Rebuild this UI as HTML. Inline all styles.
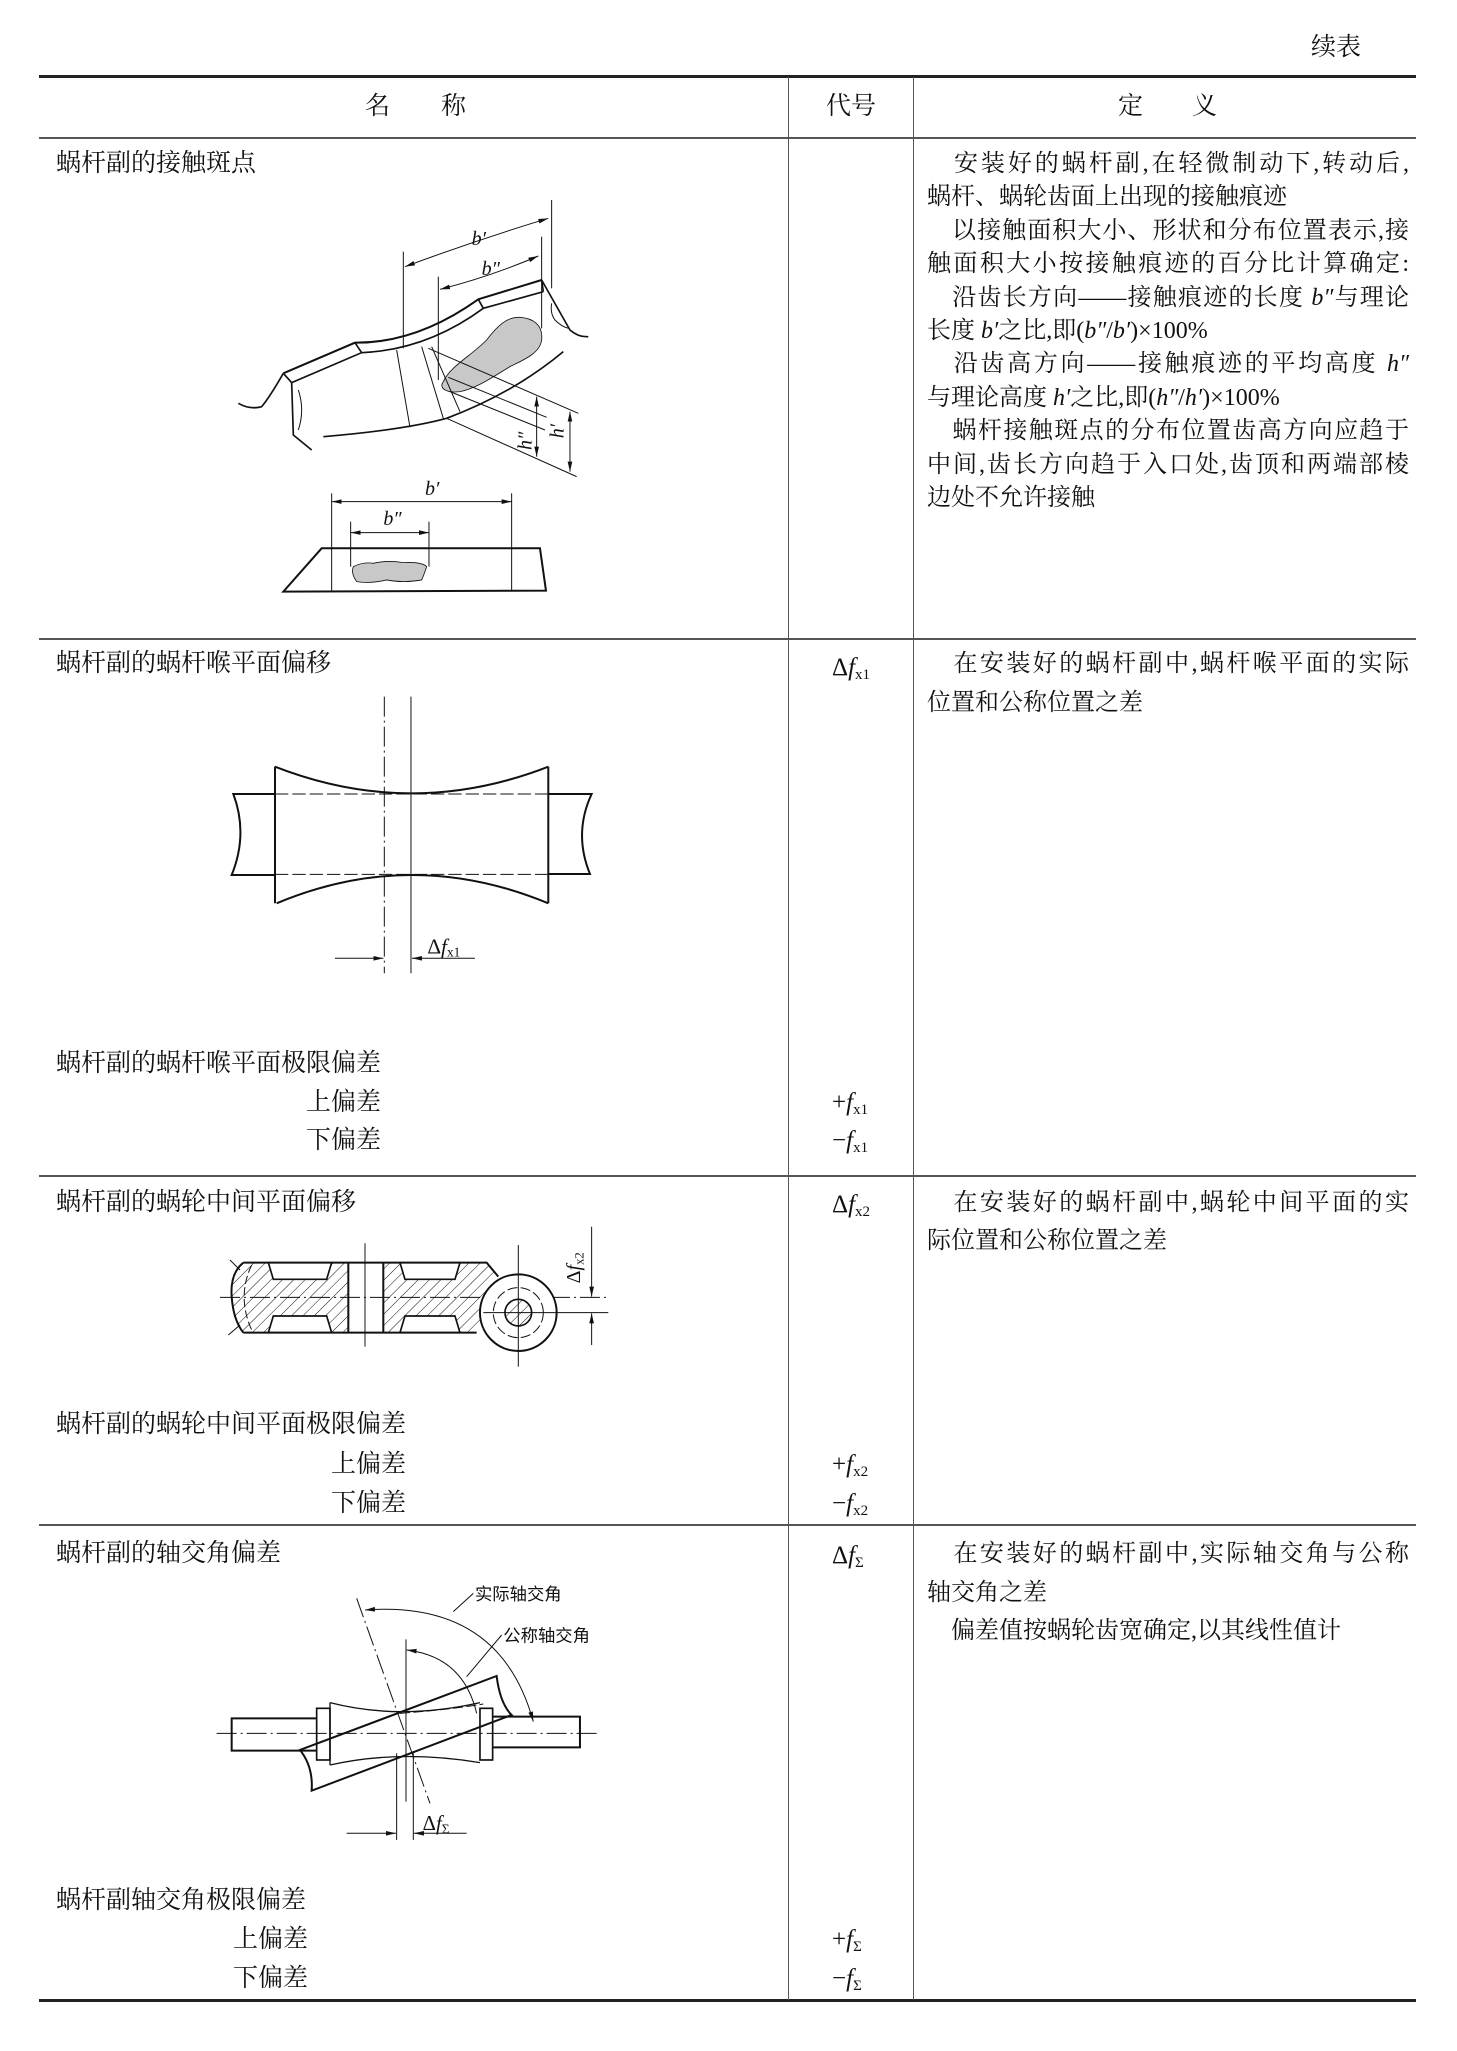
<!DOCTYPE html>
<html><head><meta charset="utf-8"><style>
body{margin:0;background:#fff;}
#pg{position:relative;width:1457px;height:2051px;overflow:hidden;font-family:"Liberation Serif","Noto Serif CJK SC","Noto Sans CJK SC",serif;color:#111;}
.t{position:absolute;font-size:25px;line-height:26px;white-space:nowrap;}
.r{position:absolute;left:927px;width:482px;font-size:24px;line-height:26px;text-align:justify;text-align-last:justify;white-space:nowrap;}
.r.n{text-align-last:left;}
.c{position:absolute;font-size:25px;line-height:26px;font-family:"Liberation Serif",serif;}
.c i{font-style:italic;}
.c sub{font-size:15px;vertical-align:-4px;}
.h{position:absolute;background:#222;}
</style></head><body><div id="pg">
<div class="t" style="left:1311px;top:35px;font-size:25px;">续表</div>
<!-- rules -->
<div class="h" style="left:39px;top:75px;width:1377px;height:3px;"></div>
<div class="h" style="left:39px;top:137px;width:1377px;height:1.5px;background:#555"></div>
<div class="h" style="left:39px;top:638px;width:1377px;height:1.5px;background:#555"></div>
<div class="h" style="left:39px;top:1175px;width:1377px;height:1.5px;background:#555"></div>
<div class="h" style="left:39px;top:1524px;width:1377px;height:1.5px;background:#555"></div>
<div class="h" style="left:39px;top:1999px;width:1377px;height:3px;"></div>
<div class="h" style="left:788px;top:77px;width:1.3px;height:1923px;background:#555"></div>
<div class="h" style="left:913px;top:77px;width:1.3px;height:1923px;background:#555"></div>
<!-- header -->
<div class="t" style="left:365px;top:94px;">名</div>
<div class="t" style="left:441px;top:94px;">称</div>
<div class="t" style="left:826px;top:94px;">代号</div>
<div class="t" style="left:1118px;top:94px;">定</div>
<div class="t" style="left:1192px;top:94px;">义</div>
<!-- left col -->
<div class="t" style="left:56px;top:151px;">蜗杆副的接触斑点</div>
<div class="t" style="left:56px;top:651px;">蜗杆副的蜗杆喉平面偏移</div>
<div class="t" style="left:56px;top:1051px;">蜗杆副的蜗杆喉平面极限偏差</div>
<div class="t" style="left:306px;top:1090px;">上偏差</div>
<div class="t" style="left:306px;top:1128px;">下偏差</div>
<div class="t" style="left:56px;top:1190px;">蜗杆副的蜗轮中间平面偏移</div>
<div class="t" style="left:56px;top:1412px;">蜗杆副的蜗轮中间平面极限偏差</div>
<div class="t" style="left:331px;top:1452px;">上偏差</div>
<div class="t" style="left:331px;top:1491px;">下偏差</div>
<div class="t" style="left:56px;top:1541px;">蜗杆副的轴交角偏差</div>
<div class="t" style="left:56px;top:1888px;">蜗杆副轴交角极限偏差</div>
<div class="t" style="left:233px;top:1927px;">上偏差</div>
<div class="t" style="left:233px;top:1966px;">下偏差</div>
<!-- codes -->
<div class="c" style="left:832px;top:655px;">Δ<i>f</i><sub>x1</sub></div>
<div class="c" style="left:832px;top:1090px;">+<i>f</i><sub>x1</sub></div>
<div class="c" style="left:832px;top:1128px;">−<i>f</i><sub>x1</sub></div>
<div class="c" style="left:832px;top:1192px;">Δ<i>f</i><sub>x2</sub></div>
<div class="c" style="left:832px;top:1452px;">+<i>f</i><sub>x2</sub></div>
<div class="c" style="left:832px;top:1491px;">−<i>f</i><sub>x2</sub></div>
<div class="c" style="left:832px;top:1543px;">Δ<i>f</i><sub>Σ</sub></div>
<div class="c" style="left:832px;top:1927px;">+<i>f</i><sub>Σ</sub></div>
<div class="c" style="left:832px;top:1966px;">−<i>f</i><sub>Σ</sub></div>
<!-- right col row1 -->
<div class="r" style="top:151px;">　安装好的蜗杆副,在轻微制动下,转动后,</div>
<div class="r n" style="top:184px;">蜗杆、蜗轮齿面上出现的接触痕迹</div>
<div class="r" style="top:218px;">　以接触面积大小、形状和分布位置表示,接</div>
<div class="r" style="top:251px;">触面积大小按接触痕迹的百分比计算确定:</div>
<div class="r" style="top:285px;">　沿齿长方向——接触痕迹的长度 <i>b″</i>与理论</div>
<div class="r n" style="top:318px;">长度 <i>b′</i>之比,即(<i>b″</i>/<i>b′</i>)×100%</div>
<div class="r" style="top:351px;">　沿齿高方向——接触痕迹的平均高度 <i>h″</i></div>
<div class="r n" style="top:385px;">与理论高度 <i>h′</i>之比,即(<i>h″</i>/<i>h′</i>)×100%</div>
<div class="r" style="top:418px;">　蜗杆接触斑点的分布位置齿高方向应趋于</div>
<div class="r" style="top:452px;">中间,齿长方向趋于入口处,齿顶和两端部棱</div>
<div class="r n" style="top:485px;">边处不允许接触</div>
<div class="r" style="top:651px;">　在安装好的蜗杆副中,蜗杆喉平面的实际</div>
<div class="r n" style="top:690px;">位置和公称位置之差</div>
<div class="r" style="top:1190px;">　在安装好的蜗杆副中,蜗轮中间平面的实</div>
<div class="r n" style="top:1228px;">际位置和公称位置之差</div>
<div class="r" style="top:1541px;">　在安装好的蜗杆副中,实际轴交角与公称</div>
<div class="r n" style="top:1580px;">轴交角之差</div>
<div class="r n" style="top:1618px;">　偏差值按蜗轮齿宽确定,以其线性值计</div>

<svg width="1457" height="2051" style="position:absolute;left:0;top:0" xmlns="http://www.w3.org/2000/svg">
<defs>
<marker id="A" markerWidth="30" markerHeight="20" refX="30" refY="10" orient="auto-start-reverse" markerUnits="userSpaceOnUse"><path d="M0,3 L30,10 L0,17 Z" fill="#111"/></marker>
<pattern id="hh" width="24" height="24" patternUnits="userSpaceOnUse" patternTransform="rotate(45)"><line x1="0" y1="0" x2="0" y2="24" stroke="#111" stroke-width="3"/></pattern>
</defs>
<!-- Diagram 1 -->
<g transform="translate(230,200) scale(0.3333)" fill="none" stroke="#111" stroke-width="3">
<path d="M640,545 C660,500 720,470 770,420 C800,380 830,350 870,352 C910,355 940,375 935,420 C930,460 880,480 840,500 C790,530 740,565 690,575 C650,580 625,565 640,545 Z" fill="#c8c8c8" stroke-width="2.5"/>
<line x1="965" y1="0" x2="965" y2="265"/>
<line x1="935" y1="110" x2="935" y2="385"/>
<line x1="520" y1="155" x2="520" y2="445"/>
<line x1="500" y1="450" x2="540" y2="682"/>
<line x1="625" y1="230" x2="625" y2="540"/>
<path d="M525,200 Q740,120 955,55" marker-start="url(#A)" marker-end="url(#A)"/>
<path d="M630,268 Q780,230 925,168" marker-start="url(#A)" marker-end="url(#A)"/>
<path d="M160,520 L375,428 Q560,430 745,298 L935,240" stroke-width="6"/>
<path d="M185,548 L395,458 Q590,450 760,325 L940,275" stroke-width="5"/>
<path d="M160,520 L185,548 M375,428 L395,458 M745,298 L760,325 M935,240 L940,275" stroke-width="5"/>
<path d="M160,520 Q120,590 95,620 Q60,630 25,610" stroke-width="5"/>
<path d="M185,548 L190,705 L245,750" stroke-width="5"/>
<path d="M205,570 Q225,630 205,690"/>
<path d="M935,240 L1020,390 Q1045,412 1075,410" stroke-width="5"/>
<path d="M965,310 Q960,340 975,360 Q995,380 1015,385"/>
<path d="M280,710 Q520,690 650,655 Q850,580 1000,455" stroke-width="5"/>
<line x1="575" y1="440" x2="640" y2="655"/>
<line x1="605" y1="440" x2="690" y2="635"/>
<line x1="595" y1="445" x2="1045" y2="640"/>
<line x1="655" y1="532" x2="950" y2="652"/>
<line x1="660" y1="575" x2="945" y2="690"/>
<line x1="650" y1="655" x2="1040" y2="830"/>
<line x1="920" y1="590" x2="920" y2="770" marker-start="url(#A)" marker-end="url(#A)"/>
<line x1="1020" y1="635" x2="1020" y2="815" marker-start="url(#A)" marker-end="url(#A)"/>
<path d="M160,1175 L275,1045 L930,1045 L948,1172 Z" stroke-width="6"/>
<line x1="305" y1="880" x2="305" y2="1175"/>
<line x1="845" y1="880" x2="845" y2="1175"/>
<line x1="305" y1="905" x2="845" y2="905" marker-start="url(#A)" marker-end="url(#A)"/>
<line x1="362" y1="965" x2="362" y2="1100"/>
<line x1="597" y1="965" x2="597" y2="1100"/>
<line x1="362" y1="998" x2="597" y2="998" marker-start="url(#A)" marker-end="url(#A)"/>
<path d="M370,1100 Q400,1085 430,1090 Q470,1080 520,1088 Q575,1085 590,1100 Q580,1130 575,1140 Q520,1150 470,1140 Q420,1152 380,1145 Q362,1120 370,1100 Z" fill="#c8c8c8" stroke-width="2.5"/>
<g fill="#111" stroke="none" font-family="Liberation Serif,serif" font-style="italic" font-size="60">
<text x="725" y="135">b′</text><text x="755" y="225">b″</text>
<text x="585" y="885">b′</text><text x="460" y="975">b″</text>
<text transform="translate(905,750) rotate(-90)">h″</text>
<text transform="translate(1000,715) rotate(-90)">h′</text>
</g>
</g>
<!-- Diagram 2 -->
<g transform="translate(220,690) scale(0.3333)" fill="none" stroke="#111" stroke-width="3">
<line x1="493" y1="20" x2="493" y2="850" stroke-dasharray="60,12,6,12"/>
<line x1="573" y1="20" x2="573" y2="850"/>
<path d="M165,230 L165,640 M985,230 L985,640" stroke-width="6"/>
<path d="M165,230 Q575,390 985,230 M170,640 Q575,470 985,640" stroke-width="6"/>
<path d="M165,312 L40,312 Q85,432 35,555 L165,555 M985,312 L1115,312 Q1060,430 1110,552 L985,552" stroke-width="6"/>
<path d="M165,312 L985,312 M165,553 L985,553" stroke-dasharray="40,12"/>
<line x1="345" y1="805" x2="490" y2="805" marker-end="url(#A)"/>
<line x1="765" y1="805" x2="576" y2="805" marker-end="url(#A)"/>
<text x="622" y="790" fill="#111" stroke="none" font-family="Liberation Serif,serif" font-size="64">Δ<tspan font-style="italic">f</tspan><tspan font-size="40" dy="10">x1</tspan></text>
</g>
<!-- Diagram 3 -->
<g transform="translate(220,1240) scale(0.3333)" fill="none" stroke="#111" stroke-width="3">
<path d="M70,68 L385,68 L385,278 L70,278 Q30,230 35,170 Q35,100 70,68 Z M490,68 L800,68 L835,110 L770,278 L490,278 Z" fill="url(#hh)" stroke="none"/>
<path d="M145,68 L160,118 L320,118 L335,68 Z M145,278 L160,228 L320,228 L335,278 Z M540,68 L555,118 L705,118 L720,68 Z M540,278 L555,228 L705,228 L720,278 Z" fill="#fff" stroke-width="5"/>
<path d="M70,68 L800,68 L835,110 M70,278 L770,278 M70,68 Q30,100 35,170 Q40,240 70,278 M385,68 L385,278 M490,68 L490,278" stroke-width="6"/>
<path d="M95,75 Q50,170 95,270" stroke-dasharray="25,10"/>
<line x1="30" y1="60" x2="60" y2="90"/><line x1="25" y1="285" x2="60" y2="255"/>
<line x1="435" y1="10" x2="435" y2="320"/>
<line x1="0" y1="172" x2="1165" y2="172" stroke-dasharray="60,12,6,12"/>
<circle cx="895" cy="218" r="115" fill="#fff" stroke-width="6"/>
<circle cx="895" cy="218" r="75" stroke-dasharray="30,10"/>
<circle cx="895" cy="218" r="40" fill="url(#hh)" stroke-width="5"/>
<line x1="895" y1="15" x2="895" y2="380"/>
<line x1="790" y1="218" x2="1165" y2="218"/>
<line x1="1115" y1="-40" x2="1115" y2="170" marker-end="url(#A)"/>
<line x1="1115" y1="315" x2="1115" y2="220" marker-end="url(#A)"/>
<text transform="translate(1080,130) rotate(-90)" fill="#111" stroke="none" font-family="Liberation Serif,serif" font-size="60">Δ<tspan font-style="italic">f</tspan><tspan font-size="38" dy="10">x2</tspan></text>
</g>
<!-- Diagram 4 -->
<g transform="translate(200,1580) scale(0.3333)" fill="none" stroke="#111" stroke-width="3">
<path d="M350,415 L95,415 L95,512 L350,512 M880,410 L1140,410 L1140,502 L880,502" stroke-width="6"/>
<rect x="350" y="385" width="40" height="155" stroke-width="5"/>
<rect x="840" y="385" width="38" height="155" stroke-width="5"/>
<path d="M390,368 Q600,422 840,368 M390,555 Q600,508 840,548 M390,368 L390,555" stroke-width="4"/>
<line x1="50" y1="460" x2="1190" y2="460" stroke-dasharray="60,12,6,12"/>
<path d="M300,510 L890,288 Q900,370 935,405 L335,632 Q340,560 300,510 Z" fill="none" stroke-width="6"/>
<path d="M600,400 Q740,390 850,372" stroke-dasharray="30,10"/>
<line x1="470" y1="55" x2="690" y2="670" stroke-dasharray="60,12,6,12"/>
<line x1="618" y1="178" x2="618" y2="665"/>
<line x1="590" y1="520" x2="590" y2="780"/>
<line x1="640" y1="520" x2="640" y2="780"/>
<line x1="440" y1="760" x2="588" y2="760" marker-end="url(#A)"/>
<line x1="800" y1="760" x2="642" y2="760" marker-end="url(#A)"/>
<path d="M495,90 Q900,60 1000,425" marker-start="url(#A)" marker-end="url(#A)"/>
<path d="M620,210 Q790,230 830,400" marker-start="url(#A)"/>
<line x1="760" y1="95" x2="820" y2="40"/>
<line x1="800" y1="290" x2="905" y2="165"/>
<g fill="#111" stroke="none" font-family="Liberation Sans,Noto Sans CJK SC,sans-serif" font-size="52">
<text x="825" y="60">实际轴交角</text><text x="910" y="185">公称轴交角</text>
</g>
<text x="668" y="750" fill="#111" stroke="none" font-family="Liberation Serif,serif" font-size="62">Δ<tspan font-style="italic">f</tspan><tspan font-size="40" dy="10">Σ</tspan></text>
</g>
</svg>
</div></body></html>
